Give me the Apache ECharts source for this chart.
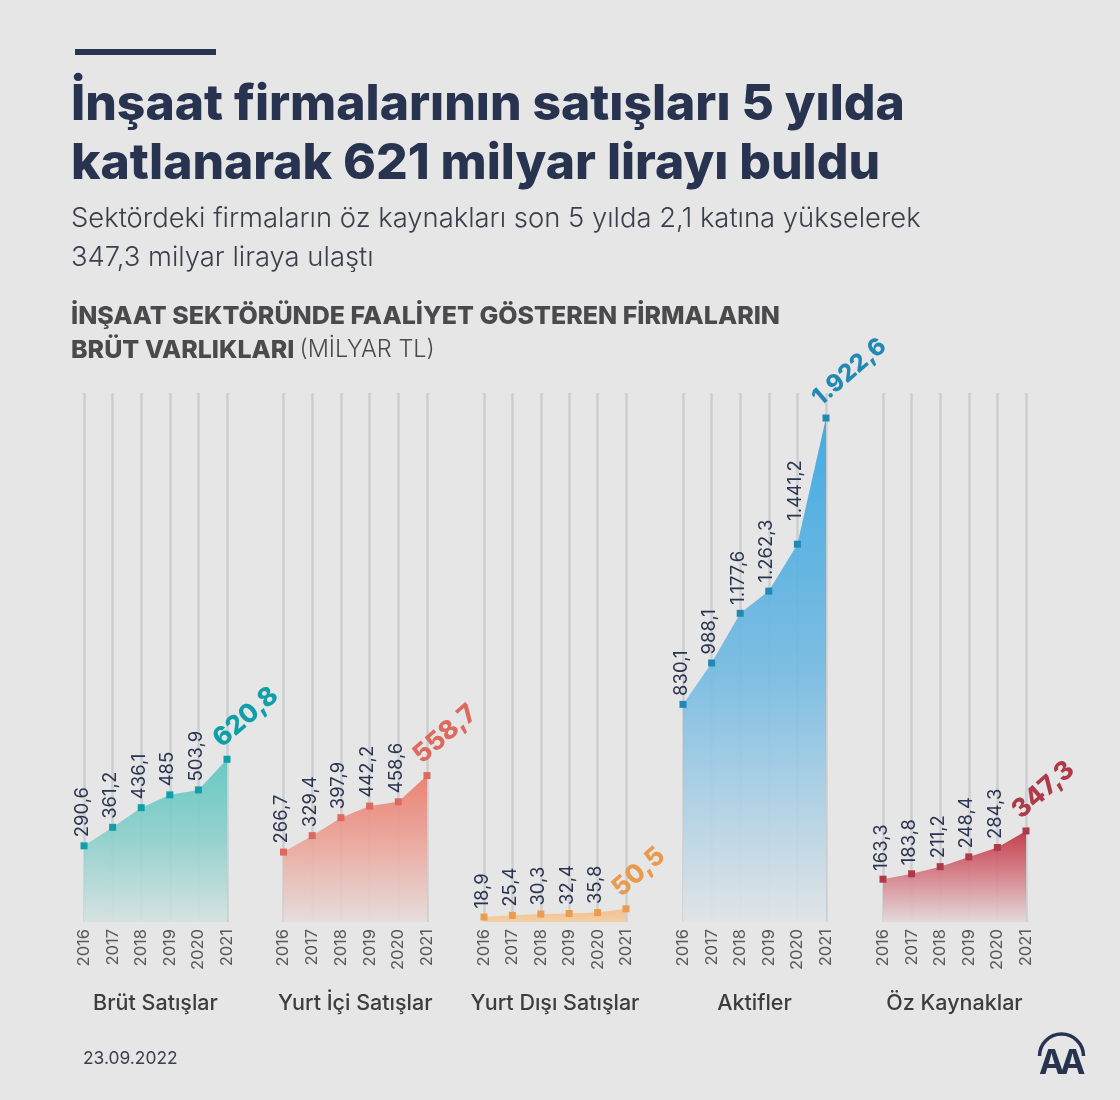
<!DOCTYPE html>
<html>
<head>
<meta charset="utf-8">
<style>html,body{margin:0;padding:0;background:#e6e6e6}#Charts{width:1120px;height:1100px}</style>
<script src="https://cdn.jsdelivr.net/npm/echarts@6/dist/echarts.min.js"></script>
</head>
<body>
<div id="Charts"></div>
<script>
var years = ['2016','2017','2018','2019','2020','2021'];
var names = ['Brüt Satışlar','Yurt İçi Satışlar','Yurt Dışı Satışlar','Aktifler','Öz Kaynaklar'];
var brutSatislar = [290.6,361.2,436.1,485,503.9,620.8];
var yurtIci = [266.7,329.4,397.9,442.2,458.6,558.7];
var yurtDisi = [18.9,25.4,30.3,32.4,35.8,50.5];
var aktifler = [830.1,988.1,1177.6,1262.3,1441.2,1922.6];
var ozKaynaklar = [163.3,183.8,211.2,248.4,284.3,347.3];
var allValues = [brutSatislar,yurtIci,yurtDisi,aktifler,ozKaynaklar];
var lefts = [84,283.5,484,683,883];
var widths = [143,143.5,142,143,143];
var markColors = ['#0e9fa9','#dd6a5f','#eb9c50','#2189b4','#ae3a49'];
var areaColors = ['#5cc6c1','#ec7a6b','#f3bd85','#35a6e0','#c2303f'];
var areaMiddle = ['#8fd0cc','#eba99f','#f3c592','#74bae2','#d5808a'];
var areaBottom = ['#d4e2e1','#e6dcdb','#f3cfa6','#e0e4e7','#e3d8da'];
var topColors = ['#0e9fa9','#dd6a5f','#e89a4f','#2189b4','#ae3a49'];
var font = 'Inter';

function trNumber(v){
	var parts = String(v).split('.');
	parts[0] = parts[0].replace(/\B(?=(\d{3})+$)/g,'.');
	return parts.join(',');
}

var grid = [], xAxis = [], yAxis = [], series = [];
for (var i = 0; i < allValues.length; i++) {
	grid.push({left:lefts[i],top:393,width:widths[i],height:529});
	xAxis.push({
		type:'category',gridIndex:i,data:years,boundaryGap:false,
		name:names[i],nameLocation:'middle',nameGap:71,
		nameTextStyle:{fontFamily:font,fontSize:21.5,fontWeight:500,color:'#3d3d3f'},
		axisLine:{show:false},axisTick:{show:false},
		axisLabel:{rotate:90,fontFamily:font,fontSize:16.5,color:'#5a5a5c',margin:7,interval:0},
		splitLine:{show:true,interval:0,lineStyle:{color:'#cdced0',width:2.5}}
	});
	yAxis.push({type:'value',gridIndex:i,min:0,max:2018,show:false,splitLine:{show:false}});
	var points = [];
	for (var j = 0; j < allValues[i].length; j++) {
		var last = j == allValues[i].length-1;
		var label = {};
		if (last) {
			label = {
				rotate:41,align:'left',verticalAlign:'middle',offset:[-2,-13],
				fontSize:i==3 ? 24 : 26,fontWeight:800,color:topColors[i]
			};
		} else if (i==3 && j==4) {
			label = {offset:[15,-2]}; // sits higher in the original, offset follows the text rotation
		}
		points.push({value:allValues[i][j],label:label});
	}
	series.push({
		type:'line',xAxisIndex:i,yAxisIndex:i,data:points,
		symbol:'rect',symbolSize:7,showAllSymbol:true,
		itemStyle:{color:markColors[i]},
		lineStyle:{width:0,opacity:0},
		areaStyle:{opacity:0.92,color:{type:'linear',x:0,y:0,x2:0,y2:1,colorStops:[
			{offset:0,color:areaColors[i]},{offset:0.5,color:areaMiddle[i]},{offset:1,color:areaBottom[i]}
		]}},
		label:{
			show:true,position:'top',distance:5,rotate:90,align:'left',verticalAlign:'middle',offset:[0,-2],
			fontFamily:font,fontSize:18.5,color:'#2a3350',
			formatter:function(p){return trNumber(p.value);}
		},
		z:3
	});
}

var option = {
	backgroundColor:'#e6e6e6',
	animation:false,
	grid:grid,xAxis:xAxis,yAxis:yAxis,series:series,
	title:[
		{text:'İnşaat firmalarının satışları 5 yılda\nkatlanarak 621 milyar lirayı buldu',left:71,top:76,padding:0,
			textStyle:{fontFamily:font,fontSize:49.8,fontWeight:800,color:'#283350',lineHeight:59}},
		{text:'Sektördeki firmaların öz kaynakları son 5 yılda 2,1 katına yükselerek\n347,3 milyar liraya ulaştı',left:71,top:199,padding:0,
			textStyle:{fontFamily:font,fontSize:27.4,fontWeight:300,color:'#3a3f4c',lineHeight:39}},
		{text:'{b|İNŞAAT SEKTÖRÜNDE FAALİYET GÖSTEREN FİRMALARIN}\n{b|BRÜT VARLIKLARI} {n|(MİLYAR TL)}',left:71,top:299,padding:0,
			textStyle:{lineHeight:34,rich:{
				b:{fontFamily:font,fontSize:25,fontWeight:800,color:'#4a4a4c',lineHeight:34},
				n:{fontFamily:font,fontSize:23.5,fontWeight:300,color:'#4a4a4c',lineHeight:34}
			}}},
		{text:'23.09.2022',left:83,top:1050,padding:0,
			textStyle:{fontFamily:font,fontSize:17.4,fontWeight:400,color:'#3a3f4c'}}
	],
	graphic:[
		{type:'rect',shape:{x:75,y:49,width:141,height:6},style:{fill:'#283350'}},
		{type:'arc',shape:{cx:1061.5,cy:1056,r:22,startAngle:Math.PI,endAngle:0},
			style:{stroke:'#283350',lineWidth:3.5,fill:null}},
		{type:'text',style:{x:1039,y:1047,text:'A',fontFamily:font,fontSize:34,fontWeight:700,fill:'#283350'}},
		{type:'text',style:{x:1060,y:1047,text:'A',fontFamily:font,fontSize:34,fontWeight:700,fill:'#283350'}}
	]
};
var myChart = echarts.init(document.getElementById('Charts'));
myChart.setOption(option);
</script>
</body>
</html>
